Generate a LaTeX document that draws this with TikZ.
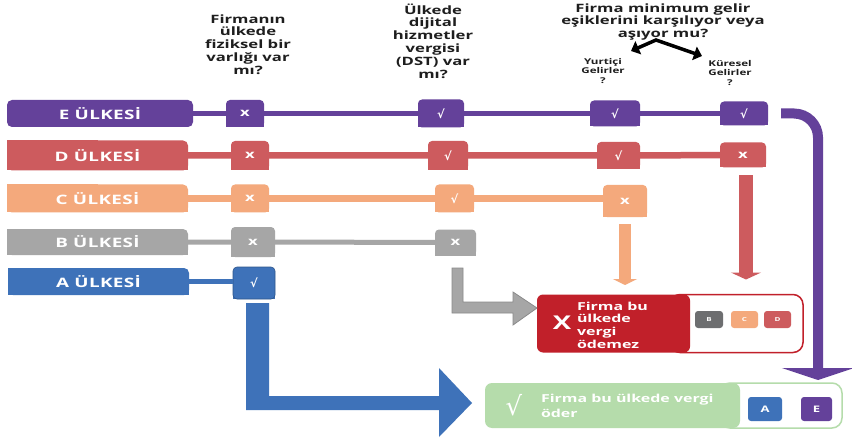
\documentclass[tikz,border=0pt]{standalone}
\usepackage{fontspec}
\setmainfont{Open Sans}[FakeStretch=1.45]
\newfontfamily\symf{DejaVu Sans}
\usetikzlibrary{arrows.meta,calc}
\definecolor{cE}{HTML}{64419A}
\definecolor{cD}{HTML}{CD5B5E}
\definecolor{cC}{HTML}{F4A97C}
\definecolor{cB}{HTML}{A6A6A6}
\definecolor{cBo}{HTML}{8A8A8A}
\definecolor{cA}{HTML}{3E72B9}
\definecolor{cR}{HTML}{C1202A}
\definecolor{cG}{HTML}{B5DCAB}
\definecolor{cBd}{HTML}{6D6E70}
\definecolor{txt}{HTML}{1E1E1E}
\newcommand\chk{{\symf\bfseries √}}
\pgfdeclarelayer{bg}
\pgfdeclarelayer{paper}
\pgfsetlayers{paper,bg,main}
\tikzset{
  every node/.style={inner sep=0pt, outer sep=0pt},
  country/.style={fill=#1, text=white, rounded corners=5pt,
    font=\bfseries\fontsize{13}{13}\selectfont\addfontfeature{LetterSpace=3}},
  sbox/.style={fill=#1, text=white, rounded corners=4pt,
    font=\bfseries\fontsize{11.5}{11.5}\selectfont},
  hdr/.style={align=center, text=txt, font=\bfseries\fontsize{11.5}{12.8}\selectfont},
  subhdr/.style={align=center, text=txt, font=\bfseries\fontsize{8}{9.2}\selectfont},
  conn/.style={draw=#1, line width=6pt},
  tiny/.style={fill=#1, text=white, rounded corners=3pt, minimum height=17pt,
    font=\bfseries\fontsize{5.5}{5.5}\selectfont},
  legbox/.style={fill=#1, text=white, rounded corners=3pt, minimum height=24pt,
    font=\bfseries\fontsize{9}{9}\selectfont},
  outbox/.style={draw=#1, line width=1.5pt, fill=white, rounded corners=10pt},
}
\begin{document}
\begin{tikzpicture}[x=1pt,y=-1pt]
\begin{pgfonlayer}{paper}
\fill[white] (0,0) rectangle (852,441);
\end{pgfonlayer}
\useasboundingbox (0,0) rectangle (852,441);

% headers
\node[hdr] (h1) at (248,44.5) {Firmanın\\ülkede\\fiziksel bir\\varlığı var\\mı?};
\node[hdr] (h2) at (433,41) {Ülkede\\dijital\\hizmetler\\vergisi\\(DST) var\\mı?};
\node[hdr] (h3) at (663,22) {Firma minimum gelir\\eşiklerini karşılıyor veya\\aşıyor mu?};
\node[subhdr] (yg) at (603,71) {Yurtiçi\\Gelirler\\?};
\node[subhdr] (kg) at (730,73) {Küresel\\Gelirler\\?};
\coordinate (chL) at (631,51);
\coordinate (apex) at (656,40);
\coordinate (chR) at (702,56);
\draw[line width=3.5pt, line join=miter, {Triangle[length=8pt,width=14pt]}-{Triangle[length=8pt,width=14pt]}] (chL) -- (apex) -- (chR);

% row E
\node[country=cE, minimum width=186pt, minimum height=27pt] (eL) at (100,113.5) {E ÜLKESİ};
\node[sbox=cE, minimum width=38pt, minimum height=27pt] (e1) at (245,113.5) {x};
\node[sbox=cE, minimum width=46pt, minimum height=28pt] (e2) at (441,113.5) {\chk};
\node[sbox=cE, minimum width=50pt, minimum height=26pt] (e3) at (615,113.5) {\chk};
\node[sbox=cE, minimum width=48pt, minimum height=24pt] (e4) at (744,113.5) {\chk};
% row D
\node[country=cD, minimum width=181pt, minimum height=30pt] (dL) at (97.5,155.5) {D ÜLKESİ};
\node[sbox=cD, minimum width=38pt, minimum height=29pt] (d1) at (250,155.5) {x};
\node[sbox=cD, minimum width=40pt, minimum height=29pt] (d2) at (448,155.5) {\chk};
\node[sbox=cD, minimum width=43pt, minimum height=27pt] (d3) at (618.5,155.5) {\chk};
\node[sbox=cD, minimum width=46pt, minimum height=25pt] (d4) at (743,155) {x};
% row C
\node[country=cC, minimum width=181pt, minimum height=28pt] (cL) at (97.5,198.5) {C ÜLKESİ};
\node[sbox=cC, minimum width=38pt, minimum height=28pt] (c1) at (250,198.5) {x};
\node[sbox=cC, minimum width=39pt, minimum height=28pt] (c2) at (454.5,198.5) {\chk};
\node[sbox=cC, minimum width=44pt, minimum height=32pt] (c3) at (625,201) {x};
% row B
\node[country=cB, minimum width=181pt, minimum height=26pt] (bL) at (97.5,242) {B ÜLKESİ};
\node[sbox=cB, minimum width=44pt, minimum height=30pt] (b1) at (253,242) {x};
\node[sbox=cB, minimum width=41pt, minimum height=26pt] (b2) at (455.5,242.5) {x};
% row A
\node[country=cA, minimum width=181pt, minimum height=27pt] (aL) at (98.5,281.5) {A ÜLKESİ};
\node[sbox=cA, draw=cA!75!black, line width=0.6pt, minimum width=42pt, minimum height=32pt] (a1) at (254,283) {\chk};

% square off corners (behind the nodes)
\begin{pgfonlayer}{bg}
\foreach \n/\c in {dL/cD,cL/cC,bL/cB,aL/cA}{
  \fill[\c] (\n.south west) rectangle (\n.north);
  \fill[\c] (\n.south west) rectangle (\n.east);
}
\foreach \n/\c in {e1/cE,e2/cE,e3/cE,e4/cE,d1/cD,d2/cD,d3/cD,d4/cD,c1/cC,c2/cC,c3/cC,b1/cB,b2/cB,a1/cA}{
  \fill[\c] (\n.south west) rectangle (\n.east);
}
\end{pgfonlayer}

% row connectors
\draw[conn=cE, line width=5.5pt] (eL) -- (e1) -- (e2) -- (e3) -- (e4);
\draw[conn=cD, line width=6.5pt] (dL) -- (d1) -- (d2) -- (d3) -- (d4);
\draw[conn=cC, line width=6.5pt] (cL) -- (c1) -- (c2) -- (c2 -| c3.west);
\draw[conn=cB, line width=5pt] (bL) -- (b1) -- (b2);
\draw[conn=cA, line width=5pt] (aL) -- (aL -| a1.west);

% result boxes
\node[outbox=cR, minimum width=133pt, minimum height=58pt] (redOut) at (736.5,323.5) {};
\node[fill=cR, rounded corners=6pt, minimum width=153pt, minimum height=58pt] (redBox) at (613.5,323.5) {};
\node[text=white, font=\bfseries\fontsize{19}{19}\selectfont] (redX) at (562,323) {X};
\node[text=white, align=left, anchor=west, font=\bfseries\fontsize{11}{12.7}\selectfont] (redT) at (577,325) {Firma bu\\ülkede\\vergi\\ödemez};
\node[tiny=cBd, minimum width=28pt] (sB) at (709,319.5) {B};
\node[tiny=cC, minimum width=27pt] (sC) at (744.5,319.5) {C};
\node[tiny=cD, minimum width=27pt] (sD) at (777.5,319.5) {D};

\node[outbox=cG, minimum width=122pt, minimum height=45pt] (grnOut) at (781,405.5) {};
\node[fill=cG, rounded corners=7pt, minimum width=255pt, minimum height=45pt] (grnBox) at (612.5,405.5) {};
\node[text=white, font=\symf\fontsize{26}{26}\selectfont] (grnChk) at (514,405) {√};
\node[text=white, align=left, anchor=west, font=\bfseries\fontsize{11}{14.5}\selectfont] (grnT) at (541,406) {Firma bu ülkede vergi\\öder};
\node[legbox=cA, minimum width=34pt] (gA) at (765,409) {A};
\node[legbox=cE, minimum width=31pt] (gE) at (816.5,409) {E};

% block arrows
\draw[cC, line width=12pt, -{Triangle[length=6pt,width=24pt]}] ($(c3.south)+(0,7)$) -- ($(c3.south)+(0,68)$);
\draw[cD, line width=14pt, -{Triangle[length=7pt,width=30pt]}] ($(d4.south)+(3,8)$) -- ($(d4.south)+(3,112)$);
\coordinate (pS) at ($(e4.east)+(13,0)$);
\coordinate (pE) at (818,380);
\draw[cE, line width=10pt, rounded corners=24pt, -{Triangle[length=12pt,width=72pt]}] (pS) -| (pE);
\filldraw[fill=cB, draw=cBo, line width=0.8pt] (452,268) -- (463,268) -- (463,302) -- (513,302) -- (513,292) -- (537,308) -- (513,325) -- (513,313) -- (452,313) -- cycle;
\fill[cA] (246,303) -- (269,303) -- (269,396) -- (439,396) -- (439,368) -- (472,403) -- (439,437) -- (439,410) -- (246,410) -- cycle;
\end{tikzpicture}
\end{document}
